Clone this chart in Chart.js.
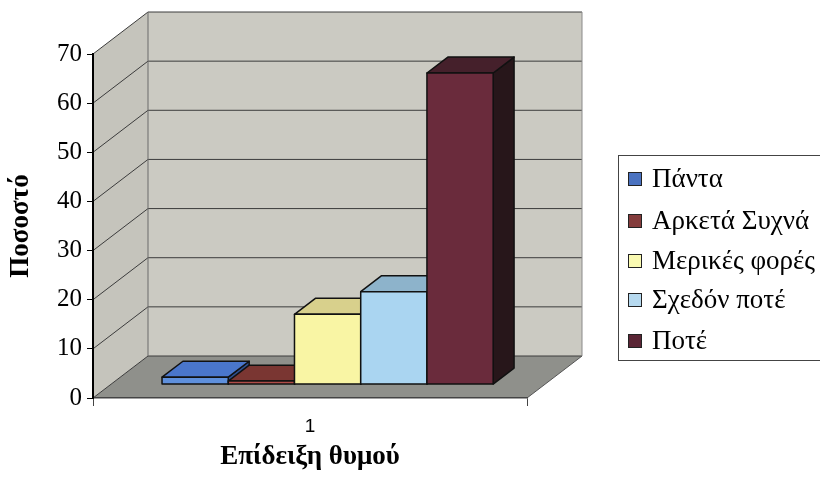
<!DOCTYPE html>
<html><head><meta charset="utf-8">
<script src="https://cdn.jsdelivr.net/npm/chart.js@4/dist/chart.umd.min.js"></script>
<style>html,body{margin:0;padding:0;background:#fff}#wrap{width:820px;height:485px;position:relative}</style>
</head><body><div id="wrap"><canvas id="c"></canvas></div>
<script>
// ---- data ----
const categories = ['1'];
const seriesLabels = ['Πάντα', 'Αρκετά Συχνά', 'Μερικές φορές', 'Σχεδόν ποτέ', 'Ποτέ'];
const seriesValues = [1.5, 0.7, 14.3, 18.9, 63.4];
const yMin = 0, yMax = 70, yStep = 10;
const yTitle = 'Ποσοστό';
const xTitle = 'Επίδειξη θυμού';

// ---- styles ----
const frontColors = ['#5f90dc', '#b04c48', '#f9f5a4', '#aad5f1', '#6a2b3c'];
const topColors   = ['#4a76cb', '#7a3632', '#d8d08c', '#8db3cb', '#45202b'];
const sideColors  = ['#2f4f90', '#4a2020', '#aea86e', '#6b90a8', '#27161a'];
const legendColors = ['#4a72c0', '#843c3c', '#fafab2', '#b6d9ef', '#5a2535'];
const DEPTH = {x: 55, y: -42};
const BAR_FRONT = 0.32, BAR_DEPTH = 0.38;
const SERIF = "'Liberation Serif', 'Times New Roman', serif";

function poly(ctx, pts, fill, stroke, lw) {
  ctx.beginPath();
  ctx.moveTo(pts[0][0], pts[0][1]);
  for (let i = 1; i < pts.length; i++) ctx.lineTo(pts[i][0], pts[i][1]);
  ctx.closePath();
  if (fill) { ctx.fillStyle = fill; ctx.fill(); }
  if (stroke) { ctx.strokeStyle = stroke; ctx.lineWidth = lw || 1; ctx.stroke(); }
}
function seg(ctx, x1, y1, x2, y2, color, lw) {
  ctx.beginPath(); ctx.moveTo(x1, y1); ctx.lineTo(x2, y2);
  ctx.strokeStyle = color; ctx.lineWidth = lw || 1; ctx.stroke();
}

const walls = {
  id: 'walls',
  beforeDraw(chart) {
    const {ctx, chartArea: {left: L, right: R, top: T, bottom: B}, scales: {y}} = chart;
    const dx = DEPTH.x, dy = DEPTH.y;
    ctx.save();
    poly(ctx, [[L + dx, T + dy], [R + dx, T + dy], [R + dx, B + dy], [L + dx, B + dy]], '#cbcac2');
    poly(ctx, [[L, T], [L + dx, T + dy], [L + dx, B + dy], [L, B]], '#c5c4bc');
    poly(ctx, [[L, B], [L + dx, B + dy], [R + dx, B + dy], [R, B]], '#8f908b');
    y.ticks.forEach(t => {
      const py = y.getPixelForValue(t.value);
      seg(ctx, L, py, L + dx, py + dy, '#3c3c3c', 1);
      seg(ctx, L + dx, py + dy, R + dx, py + dy, '#3c3c3c', 1);
    });
    seg(ctx, L + dx, T + dy, L + dx, B + dy, '#6a6a6a', 1);
    seg(ctx, R + dx, T + dy, R + dx, B + dy, '#8a8a8a', 1);
    seg(ctx, R, B, R + dx, B + dy, '#555', 1);
    ctx.restore();
  }
};

const bars3d = {
  id: 'bars3d',
  beforeDatasetsDraw(chart) {
    chart.ctx.save();
    chart.ctx.translate(DEPTH.x * BAR_FRONT, DEPTH.y * BAR_FRONT);
  },
  afterDatasetsDraw(chart) {
    const ctx = chart.ctx;
    const bx = DEPTH.x * BAR_DEPTH, by = DEPTH.y * BAR_DEPTH;
    ctx.lineJoin = 'round';
    chart.data.datasets.forEach((ds, i) => {
      const meta = chart.getDatasetMeta(i);
      meta.data.forEach(el => {
        const {x, y, base, width} = el.getProps(['x', 'y', 'base', 'width'], true);
        const l = x - width / 2, r = x + width / 2;
        poly(ctx, [[r, y], [r + bx, y + by], [r + bx, base + by], [r, base]], sideColors[i], '#111', 1.5);
        poly(ctx, [[l, y], [l + bx, y + by], [r + bx, y + by], [r, y]], topColors[i], '#111', 1.5);
        poly(ctx, [[l, y], [r, y], [r, base], [l, base]], frontColors[i], '#111', 1.5);
      });
    });
    ctx.restore();
  }
};

const boxLegend = {
  id: 'boxLegend',
  afterDraw(chart) {
    const ctx = chart.ctx;
    ctx.save();
    const bx = 618, by = 155, bw = 220, bh = 205;
    ctx.strokeStyle = '#444'; ctx.lineWidth = 1;
    ctx.strokeRect(bx + 0.5, by + 0.5, bw, bh);
    ctx.font = '27px ' + SERIF;
    ctx.textBaseline = 'middle';
    const rows = [179, 221, 261, 300, 341];
    chart.data.datasets.forEach((ds, i) => {
      const cy = rows[i];
      ctx.fillStyle = legendColors[i];
      ctx.fillRect(628, cy - 7, 14, 14);
      ctx.strokeStyle = '#222'; ctx.lineWidth = 1;
      ctx.strokeRect(628.5, cy - 6.5, 13, 13);
      ctx.fillStyle = '#000';
      ctx.fillText(ds.label, 652, cy + 1);
    });
    ctx.restore();
  }
};

const datasets = seriesLabels.map((lab, i) => ({
  label: lab,
  data: [seriesValues[i]],
  backgroundColor: frontColors[i],
  borderColor: '#111',
  borderWidth: 1.5,
  clip: false
}));

new Chart(document.getElementById('c'), {
  type: 'bar',
  data: {labels: categories, datasets},
  options: {
    responsive: true,
    maintainAspectRatio: false,
    animation: false,
    devicePixelRatio: 1,
    categoryPercentage: 0.763,
    barPercentage: 1,
    layout: {padding: {left: 0, top: 54, right: 293, bottom: 0}},
    plugins: {legend: {display: false}, tooltip: {enabled: false}},
    scales: {
      x: {
        grid: {drawOnChartArea: false, drawTicks: true, tickLength: 8, color: '#444'},
        border: {display: true, color: '#444', width: 1.5},
        ticks: {color: '#000', font: {family: "'Liberation Sans', Arial, sans-serif", size: 19}, padding: 9},
        title: {display: true, text: xTitle, color: '#000', font: {family: SERIF, size: 27, weight: 'bold'}, padding: {top: 0, bottom: 12}},
        afterFit(s) { s.height = 87; }
      },
      y: {
        min: yMin, max: yMax,
        grid: {drawOnChartArea: false, drawTicks: true, tickLength: 6, color: '#000'},
        border: {display: true, color: '#000', width: 2},
        ticks: {stepSize: yStep, color: '#000', font: {family: SERIF, size: 25}, padding: 5},
        title: {display: true, text: yTitle, color: '#000', font: {family: SERIF, size: 27, weight: 'bold'}, padding: {top: 5, bottom: 0}},
        afterFit(s) { s.width = 93; }
      }
    }
  },
  plugins: [walls, bars3d, boxLegend]
});
</script>
</body></html>
